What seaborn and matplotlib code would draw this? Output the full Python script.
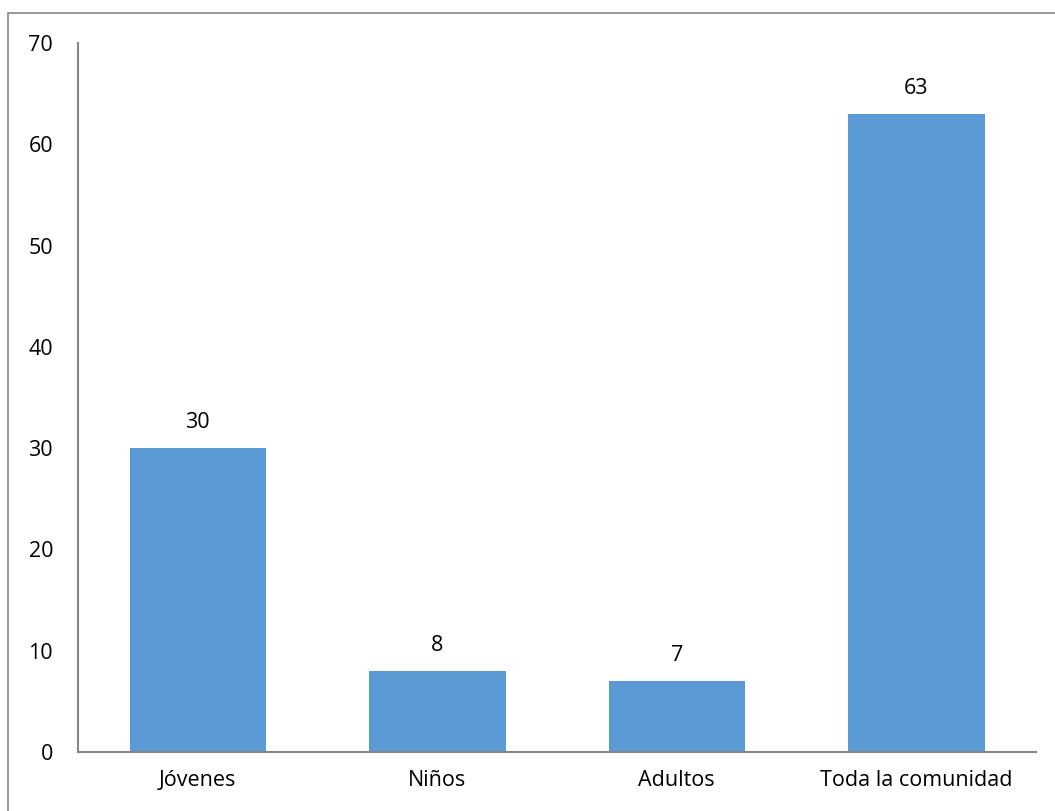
import matplotlib
matplotlib.use("Agg")
import matplotlib.pyplot as plt
import seaborn as sns
import pandas as pd
from matplotlib.patches import Rectangle

# Chart data
categories = ['Jóvenes', 'Niños', 'Adultos', 'Toda la comunidad']
values = [30, 8, 7, 63]

df = pd.DataFrame({'Grupo': categories, 'Cantidad': values})

sns.set_theme(style="white")
plt.rcParams['font.family'] = ['Open Sans', 'DejaVu Sans']

fig = plt.figure(figsize=(10.55, 8.11), dpi=100)
ax = fig.add_axes([0.074, 0.073, 0.908, 0.874])

sns.barplot(data=df, x='Grupo', y='Cantidad', color='#5B9BD5', width=0.57,
            saturation=1, linewidth=0, ax=ax)

for i, v in enumerate(values):
    ax.text(i, v + 1.5, str(v), ha='center', va='bottom', fontsize=15.5, color='black')

ax.set_ylim(0, 70)
ax.set_yticks(range(0, 71, 10))
ax.set_xlabel('')
ax.set_ylabel('')
ax.tick_params(axis='both', length=0, labelsize=15.5, colors='black')
ax.tick_params(axis='y', pad=18)
ax.tick_params(axis='x', pad=13)
for s in ['top', 'right']:
    ax.spines[s].set_visible(False)
for s in ['left', 'bottom']:
    ax.spines[s].set_color('#868686')
    ax.spines[s].set_linewidth(1.5)

# outer chart border
fig.patches.append(Rectangle((8 / 1055, -0.01), 1.0, 1 - 13 / 811 + 0.01,
                             transform=fig.transFigure, fill=False,
                             edgecolor='#868686', linewidth=1.2))

fig.savefig('out.png', dpi=100)
